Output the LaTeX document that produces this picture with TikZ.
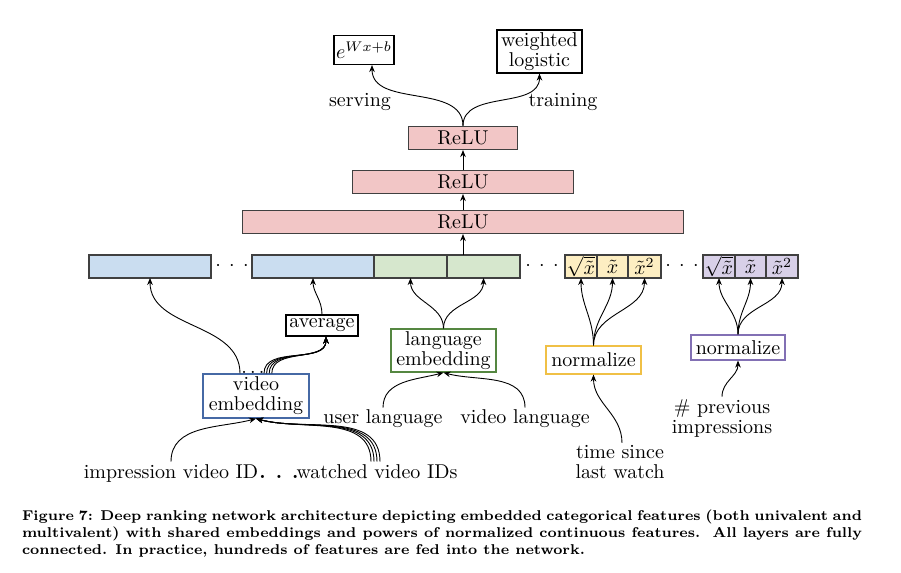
\documentclass[tikz,border=0pt]{standalone}
\usepackage{amsmath}
\usepackage{amssymb}
\usetikzlibrary{positioning,arrows.meta}

\definecolor{relured}{RGB}{242,198,198}
\definecolor{embblue}{RGB}{202,221,240}
\definecolor{embgreen}{RGB}{214,231,205}
\definecolor{normyellow}{RGB}{253,238,194}
\definecolor{normpurple}{RGB}{216,208,232}
\definecolor{bluedraw}{RGB}{70,105,165}
\definecolor{greendraw}{RGB}{85,135,65}
\definecolor{yellowdraw}{RGB}{240,192,70}
\definecolor{purpledraw}{RGB}{130,112,180}

\tikzset{
	relubox/.style={draw=black!75,fill=relured,line width=0.6pt,inner sep=0pt,minimum height=11.5pt},
	featcell/.style={draw=black!75,line width=0.6pt,inner sep=0pt,outer sep=0pt,minimum height=11.5pt},
	opbox/.style={draw,line width=0.6pt,inner sep=1pt,align=center},
	inlabel/.style={inner sep=1pt,align=center},
	feed/.style={->,>={Stealth[length=3.5pt,width=2.8pt]},line width=0.45pt},
}

\begin{document}
\begin{tikzpicture}[x=0.5pt,y=-0.5pt,font=\fontsize{10pt}{10pt}\selectfont]
		\path[fill=white] (0,0) rectangle (901,573);
		\useasboundingbox (0,0) rectangle (901,573);
		% outputs
		\node (serve) [opbox,minimum width=26pt,minimum height=14.5pt] at (364,50) {$e^{Wx+b}$};
		\node (train) [opbox,minimum width=42.5pt,minimum height=21.5pt] at (539.5,51.5) {weighted\\logistic};
		\node (serving) [inlabel] at (360,102) {serving};
		\node (training) [inlabel] at (563,102) {training};
		% hidden layers
		\node (relu3) [relubox,minimum width=54.5pt] at (463,138) {ReLU};
		\node (relu2) [relubox,minimum width=110.5pt] at (463,182) {ReLU};
		\node (relu1) [relubox,minimum width=220.5pt] at (463,222) {ReLU};
		% concatenated features
		\node (blue1) [featcell,fill=embblue,minimum width=61pt] at (150,266.5) {};
		\node (dots1) [inlabel] at (232,266) {${\cdot}\hspace{4.2pt}{\cdot}\hspace{4.2pt}{\cdot}$};
		\node (blue2) [featcell,fill=embblue,minimum width=61pt] at (313,266.5) {};
		\node (green1) [featcell,fill=embgreen,minimum width=36.5pt,right=0pt of blue2] {};
		\node (green2) [featcell,fill=embgreen,minimum width=36.5pt,right=0pt of green1] {};
		\node (dots2) [inlabel] at (542,266) {${\cdot}\hspace{4.2pt}{\cdot}\hspace{4.2pt}{\cdot}$};
		\node (ysqrt) [featcell,fill=normyellow,minimum width=16pt] at (581,266.5) {$\sqrt{\tilde{x}}$};
		\node (ylin) [featcell,fill=normyellow,minimum width=15.5pt,right=0pt of ysqrt] {$\tilde{x}$};
		\node (ysq) [featcell,fill=normyellow,minimum width=16.5pt,right=0pt of ylin] {$\tilde{x}^2$};
		\node (dots3) [inlabel] at (682,266) {${\cdot}\hspace{4.2pt}{\cdot}\hspace{4.2pt}{\cdot}$};
		\node (psqrt) [featcell,fill=normpurple,minimum width=16pt] at (719,266.5) {$\sqrt{\tilde{x}}$};
		\node (plin) [featcell,fill=normpurple,minimum width=15.5pt,right=0pt of psqrt] {$\tilde{x}$};
		\node (psq) [featcell,fill=normpurple,minimum width=16pt,right=0pt of plin] {$\tilde{x}^2$};
		% embeddings and normalizers
		\node (avg) [opbox,minimum width=36pt,minimum height=10.5pt] at (322,325.5) {average};
		\node (lemb) [opbox,draw=greendraw,minimum width=52.5pt,minimum height=21.5pt] at (443.5,350.5) {language\\embedding};
		\node (nyel) [opbox,draw=yellowdraw,minimum width=47.5pt,minimum height=14pt] at (593.5,360) {normalize};
		\node (npur) [opbox,draw=purpledraw,minimum width=47pt,minimum height=12.5pt] at (738,347.5) {normalize};
		\node (vemb) [opbox,draw=bluedraw,minimum width=53pt,minimum height=22pt] at (256,396) {video\\embedding};
		\node (vdots) [inner sep=0pt,anchor=base] at ([xshift=-1.5pt]vemb.north) {.\hspace{1.6pt}.\hspace{1.6pt}.};
		% inputs
		\node (imp) [inlabel,anchor=base] at (171,478) {impression video ID};
		\node (impdots) [inlabel,anchor=base] at (279,478) {\textbf{.}\hspace{5pt}\textbf{.}\hspace{5pt}\textbf{.}};
		\node (watched) [inlabel,anchor=base] at (377,478) {watched video IDs};
		\node (ulang) [inlabel] at (383,419) {user language};
		\node (vlang) [inlabel] at (525,419) {video language};
		\node (tsince) [inlabel] at (620,462) {time since\\last watch};
		\node (previmp) [inlabel] at (722,418) {\# previous\\impressions};
		% caption
		\node (caption) [inner sep=0pt,text width=420pt,align=justify,font=\fontsize{7.1pt}{8.5pt}\selectfont\bfseries] at (442,534) {Figure 7: Deep ranking network architecture depicting embedded categorical features (both univalent and\linebreak multivalent) with shared embeddings and powers of normalized continuous features.\ \ All layers are fully\linebreak connected. In practice, hundreds of features are fed into the network.};
		% connections
		\draw (relu3.north) edge[feed,out=90,in=-90] ([xshift=4pt]serve.south);
		\draw (relu3.north) edge[feed,out=90,in=-90] (train.south);
		\draw (relu2.north) edge[feed] (relu3.south);
		\draw (relu1.north) edge[feed] (relu2.south);
		\draw (relu1.south |- green2.north) edge[feed] (relu1.south);
		\draw ([xshift=-8pt]vemb.north) edge[feed,out=90,in=-90] (blue1.south);
		\foreach \s in {4,5.3,6.6,7.9}
			\draw ([xshift=\s pt]vemb.north) edge[feed,out=90,in=-90] ([xshift=2pt]avg.south);
		\draw (avg.north) edge[feed,out=90,in=-90] (blue2.south);
		\draw (lemb.north) edge[feed,out=90,in=-90] (green1.south);
		\draw (lemb.north) edge[feed,out=90,in=-90] (green2.south);
		\draw (nyel.north) edge[feed,out=90,in=-90] (ysqrt.south);
		\draw (nyel.north) edge[feed,out=90,in=-90] (ylin.south);
		\draw (nyel.north) edge[feed,out=90,in=-90] (ysq.south);
		\draw (npur.north) edge[feed,out=90,in=-90] (psqrt.south);
		\draw (npur.north) edge[feed,out=90,in=-90] (plin.south);
		\draw (npur.north) edge[feed,out=90,in=-90] (psq.south);
		\draw (imp.north) edge[feed,out=90,in=-165] (vemb.south);
		\foreach \s in {-3,-1.5,0,1.5}
			\draw ([xshift=\s pt]watched.north) edge[feed,out=90,in=-15] (vemb.south);
		\draw (ulang.north) edge[feed,out=90,in=-165] (lemb.south);
		\draw (vlang.north) edge[feed,out=90,in=-15] (lemb.south);
		\draw ([xshift=1pt]tsince.north) edge[feed,out=90,in=-90] (nyel.south);
		\draw (previmp.north) edge[feed,out=90,in=-90] (npur.south);
	\end{tikzpicture}
\end{document}
